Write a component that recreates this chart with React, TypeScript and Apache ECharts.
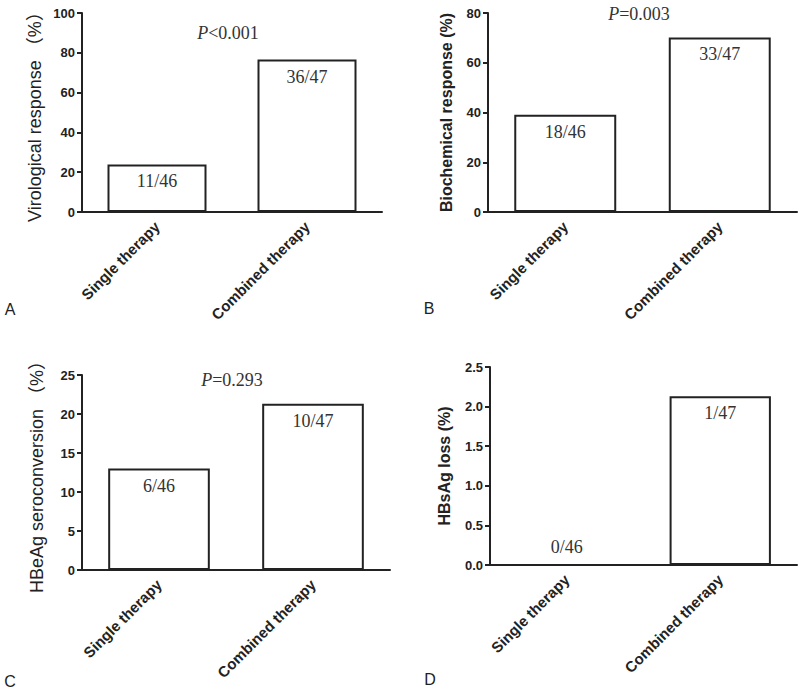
import React, { useEffect, useRef } from "react";
import * as echarts from "echarts";

const categories = ["Single therapy", "Combined therapy"];

const virological = [23.9, 76.6];
const virologicalCounts = ["11/46", "36/47"];

const biochemical = [39.1, 70.2];
const biochemicalCounts = ["18/46", "33/47"];

const seroconversion = [13.0, 21.3];
const seroconversionCounts = ["6/46", "10/47"];

const hbsagLoss = [0, 2.13];
const hbsagLossCounts = ["0/46", "1/47"];

const pValues = ["<0.001", "=0.003", "=0.293"];
const panelLetters = ["A", "B", "C", "D"];

const SANS = "'Liberation Sans', Arial, 'Noto Sans CJK SC', sans-serif";
const SERIF = "'Liberation Serif', 'Times New Roman', serif";
const INK = "#222";

export default function App() {
  const ref = useRef<HTMLDivElement>(null);

  useEffect(() => {
    if (!ref.current) return;
    const chart = echarts.init(ref.current, undefined, { renderer: "svg" });

    const grids = [
      { left: 82, top: 13, width: 300, height: 199 },
      { left: 488, top: 13, width: 309, height: 199 },
      { left: 82, top: 375, width: 308, height: 195 },
      { left: 490, top: 367, width: 307, height: 198 },
    ];

    const yDefs = [
      { max: 100, interval: 20, name: "Virological response （%）", bold: false, gap: 38, dec: 0 },
      { max: 80, interval: 20, name: "Biochemical response (%)", bold: true, gap: 34, dec: 0 },
      { max: 25, interval: 5, name: "HBeAg seroconversion （%）", bold: false, gap: 36, dec: 0 },
      { max: 2.5, interval: 0.5, name: "HBsAg loss (%)", bold: true, gap: 38, dec: 1 },
    ];

    const values = [virological, biochemical, seroconversion, hbsagLoss];
    const counts = [virologicalCounts, biochemicalCounts, seroconversionCounts, hbsagLossCounts];

    const xAxis = grids.map((_, i) => ({
      type: "category",
      gridIndex: i,
      data: categories,
      axisLine: { lineStyle: { color: INK, width: 2 } },
      axisTick: { alignWithLabel: true, length: 5, lineStyle: { color: INK, width: 2 } },
      axisLabel: {
        rotate: 45,
        margin: 12,
        interval: 0,
        fontSize: 15,
        fontWeight: "bold",
        color: INK,
        fontFamily: SANS,
      },
    }));

    const yAxis = yDefs.map((d, i) => ({
      type: "value",
      gridIndex: i,
      min: 0,
      max: d.max,
      interval: d.interval,
      splitLine: { show: false },
      axisLine: { show: true, lineStyle: { color: INK, width: 2 } },
      axisTick: { show: true, length: 5, lineStyle: { color: INK, width: 2 } },
      axisLabel: {
        margin: 7,
        fontSize: 13,
        fontWeight: "bold",
        color: INK,
        fontFamily: SANS,
        formatter: (v: number) => v.toFixed(d.dec),
      },
      name: d.name,
      nameLocation: "middle",
      nameGap: d.gap,
      nameTextStyle: {
        fontSize: d.bold ? 16 : 18,
        fontWeight: d.bold ? "bold" : "normal",
        color: INK,
        fontFamily: SANS,
      },
    }));

    const series = values.map((vals, i) => ({
      type: "bar",
      xAxisIndex: i,
      yAxisIndex: i,
      barWidth: "66%",
      data: vals.map((v) => (v === 0 ? { value: v, label: { position: "top" } } : v)),
      itemStyle: { color: "#fff", borderColor: INK, borderWidth: 2 },
      label: {
        show: true,
        position: "insideTop",
        distance: 8,
        formatter: (p: any) => counts[i][p.dataIndex],
        fontFamily: SERIF,
        fontSize: 18,
        color: "#333",
      },
    }));

    const pPos = [
      [228, 33],
      [639, 14],
      [232, 380],
    ];
    const letterPos = [
      [10, 309],
      [429, 308],
      [10, 681],
      [430, 679],
    ];

    const graphic: any[] = [];
    pValues.forEach((p, i) => {
      graphic.push({
        type: "text",
        x: pPos[i][0],
        y: pPos[i][1],
        style: {
          text: `{i|P}{n|${p}}`,
          align: "center",
          verticalAlign: "middle",
          rich: {
            i: { fontFamily: SERIF, fontStyle: "italic", fontSize: 18, fill: "#333" },
            n: { fontFamily: SERIF, fontSize: 18, fill: "#333" },
          },
        },
      });
    });
    panelLetters.forEach((l, i) => {
      graphic.push({
        type: "text",
        x: letterPos[i][0],
        y: letterPos[i][1],
        style: {
          text: l,
          align: "center",
          verticalAlign: "middle",
          fontFamily: SANS,
          fontSize: 16,
          fill: INK,
        },
      });
    });

    chart.setOption({
      animation: false,
      backgroundColor: "#fff",
      grid: grids,
      xAxis,
      yAxis,
      series,
      graphic,
    } as any);

    return () => chart.dispose();
  }, []);

  return (
    <div
      ref={ref}
      style={{ position: "absolute", left: 0, top: 0, width: 800, height: 690 }}
    />
  );
}
